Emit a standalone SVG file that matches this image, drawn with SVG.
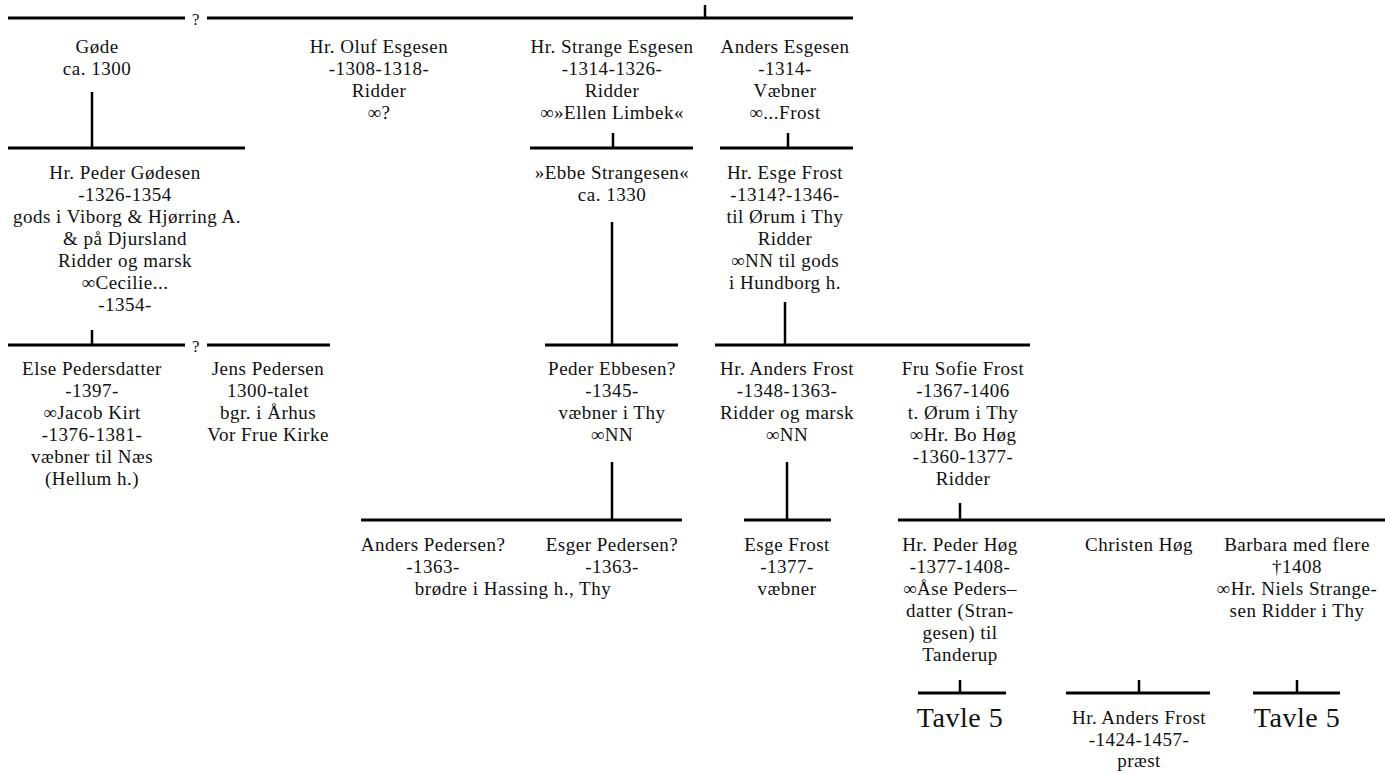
<svg xmlns="http://www.w3.org/2000/svg" width="1385" height="773" viewBox="0 0 1385 773">
<style>
text{font-family:"Liberation Serif","Times New Roman",serif;font-size:19px;fill:#111;text-anchor:middle;letter-spacing:0.5px}
.big{font-size:28px;letter-spacing:0.5px}
.q{font-size:17px}
.h{stroke:#000;stroke-width:3;fill:none}
.v{stroke:#000;stroke-width:2.5;fill:none}
</style>
<rect width="1385" height="773" fill="#fff"/>
<g id="connectors">
<path class="h" d="M8 18H185M207 18H853"/>
<path class="v" d="M705 5V18"/>
<path class="v" d="M92 92V148"/>
<path class="h" d="M8 148H245"/>
<path class="h" d="M530 148H693M720 148H853"/>
<path class="v" d="M613 133V148M788 133V148"/>
<path class="v" d="M612 222V345"/>
<path class="h" d="M545 345H678"/>
<path class="v" d="M785 302V345"/>
<path class="h" d="M715 345H1030"/>
<path class="v" d="M92 330V345"/>
<path class="h" d="M8 345H185M207 345H330"/>
<path class="v" d="M612 462V520M787 462V520M960 503V520"/>
<path class="h" d="M361 520H682M744 520H831M898 520H1385"/>
<path class="h" d="M918 693H1006M1066 693H1210M1253 693H1340"/>
<path class="v" d="M960 680V693M1139 680V693M1297 680V693"/>
<text class="q" x="196" y="25">?</text>
<text class="q" x="196" y="352">?</text>
</g>
<g id="gode"><text x="97" y="53">Gøde</text><text x="97" y="75">ca. 1300</text></g>
<g id="oluf"><text x="379" y="53">Hr. Oluf Esgesen</text><text x="379" y="75">-1308-1318-</text><text x="379" y="97">Ridder</text><text x="379" y="119">∞?</text></g>
<g id="strange"><text x="612" y="53">Hr. Strange Esgesen</text><text x="612" y="75">-1314-1326-</text><text x="612" y="97">Ridder</text><text x="612" y="119">∞»Ellen Limbek«</text></g>
<g id="anders-esgesen"><text x="785" y="53">Anders Esgesen</text><text x="785" y="75">-1314-</text><text x="785" y="97">Væbner</text><text x="785" y="119">∞...Frost</text></g>
<g id="peder-godesen"><text x="125" y="179">Hr. Peder Gødesen</text><text x="125" y="201">-1326-1354</text><text x="127" y="223">gods i Viborg &amp; Hjørring A.</text><text x="125" y="245">&amp; på Djursland</text><text x="125" y="267">Ridder og marsk</text><text x="125" y="289">∞Cecilie...</text><text x="125" y="311">-1354-</text></g>
<g id="ebbe"><text x="612" y="179">»Ebbe Strangesen«</text><text x="612" y="201">ca. 1330</text></g>
<g id="esge-frost"><text x="785" y="179">Hr. Esge Frost</text><text x="785" y="201">-1314?-1346-</text><text x="785" y="223">til Ørum i Thy</text><text x="785" y="245">Ridder</text><text x="785" y="267">∞NN til gods</text><text x="785" y="289">i Hundborg h.</text></g>
<g id="else"><text x="92" y="375">Else Pedersdatter</text><text x="92" y="397">-1397-</text><text x="92" y="419">∞Jacob Kirt</text><text x="92" y="441">-1376-1381-</text><text x="92" y="463">væbner til Næs</text><text x="92" y="485">(Hellum h.)</text></g>
<g id="jens"><text x="268" y="375">Jens Pedersen</text><text x="268" y="397">1300-talet</text><text x="268" y="419">bgr. i Århus</text><text x="268" y="441">Vor Frue Kirke</text></g>
<g id="peder-ebbesen"><text x="612" y="375">Peder Ebbesen?</text><text x="612" y="397">-1345-</text><text x="612" y="419">væbner i Thy</text><text x="612" y="441">∞NN</text></g>
<g id="anders-frost"><text x="787" y="375">Hr. Anders Frost</text><text x="787" y="397">-1348-1363-</text><text x="787" y="419">Ridder og marsk</text><text x="787" y="441">∞NN</text></g>
<g id="sofie"><text x="963" y="375">Fru Sofie Frost</text><text x="963" y="397">-1367-1406</text><text x="963" y="419">t. Ørum i Thy</text><text x="963" y="441">∞Hr. Bo Høg</text><text x="963" y="463">-1360-1377-</text><text x="963" y="485">Ridder</text></g>
<g id="anders-pedersen"><text x="433" y="551">Anders Pedersen?</text><text x="433" y="573">-1363-</text></g>
<g id="esger-pedersen"><text x="612" y="551">Esger Pedersen?</text><text x="612" y="573">-1363-</text></g>
<g id="brodre"><text x="513" y="595">brødre i Hassing h., Thy</text></g>
<g id="esge-frost-2"><text x="787" y="551">Esge Frost</text><text x="787" y="573">-1377-</text><text x="787" y="595">væbner</text></g>
<g id="peder-hog"><text x="960" y="551">Hr. Peder Høg</text><text x="960" y="573">-1377-1408-</text><text x="960" y="595">∞Åse Peders–</text><text x="960" y="617">datter (Stran-</text><text x="960" y="639">gesen) til</text><text x="960" y="661">Tanderup</text></g>
<g id="christen-hog"><text x="1139" y="551">Christen Høg</text></g>
<g id="barbara"><text x="1297" y="551">Barbara med flere</text><text x="1297" y="573">†1408</text><text x="1297" y="595">∞Hr. Niels Strange-</text><text x="1297" y="617">sen Ridder i Thy</text></g>
<g id="tavle-1"><text class="big" x="960" y="727">Tavle 5</text></g>
<g id="anders-frost-2"><text x="1139" y="724">Hr. Anders Frost</text><text x="1139" y="746">-1424-1457-</text><text x="1139" y="767">præst</text></g>
<g id="tavle-2"><text class="big" x="1297" y="727">Tavle 5</text></g>
</svg>
